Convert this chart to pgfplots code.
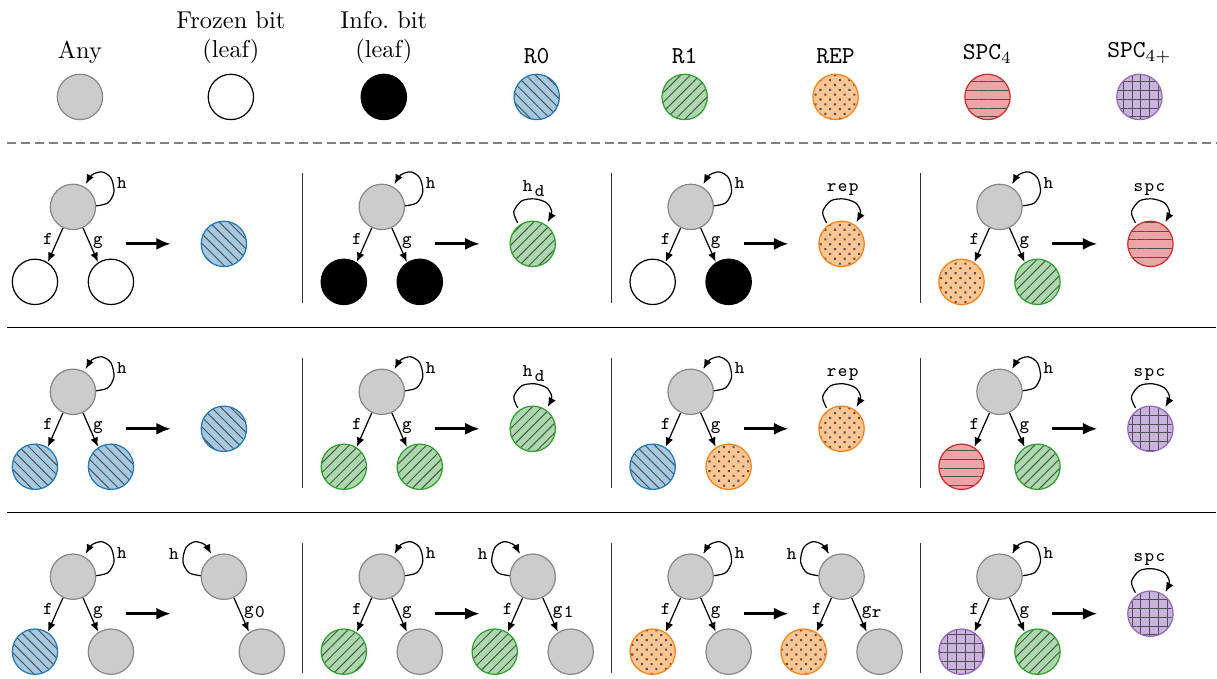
\documentclass[border=0pt]{standalone}
\usepackage{pgfplots}
\pgfplotsset{compat=1.18}
\usepackage{pgfplotstable}
\usetikzlibrary{patterns,patterns.meta,arrows.meta}

\definecolor{anyfill}{HTML}{CCCCCC}
\definecolor{anyline}{HTML}{888888}
\definecolor{tabblue}{HTML}{1F77B4}
\definecolor{tabgreen}{HTML}{2CA02C}
\definecolor{taborange}{HTML}{FF7F0E}
\definecolor{tabred}{HTML}{D62728}
\definecolor{tabpurple}{HTML}{9467BD}
\definecolor{patcol}{HTML}{505050}

\tikzset{
  nd/.style={circle, minimum size=18.6pt, inner sep=0pt, line width=0.5pt},
  anyc/.style={nd, fill=anyfill, draw=anyline},
  frzc/.style={nd, fill=white, draw=black},
  infc/.style={nd, fill=black, draw=black},
  rzc/.style={nd, draw=tabblue, preaction={fill=tabblue!40!white},
    pattern={Lines[angle=-45,distance=2.8pt,line width=0.4pt]}, pattern color=patcol},
  roc/.style={nd, draw=tabgreen, preaction={fill=tabgreen!40!white},
    pattern={Lines[angle=45,distance=2.8pt,line width=0.4pt]}, pattern color=patcol},
  repc/.style={nd, draw=taborange, preaction={fill=taborange!45!white},
    pattern={Dots[angle=45,distance=2.8pt,radius=0.6pt]}, pattern color=patcol},
  spcc/.style={nd, draw=tabred, preaction={fill=tabred!42!white},
    pattern={Lines[angle=0,distance=3.6pt,line width=0.4pt]}, pattern color=patcol},
  spcpc/.style={nd, draw=tabpurple, preaction={fill=tabpurple!50!white},
    pattern={Hatch[angle=0,distance=3.6pt,line width=0.4pt]}, pattern color=patcol},
  edge/.style={black, line width=0.5pt, -{Latex[length=3.8pt,width=3.2pt]}},
  bigarrow/.style={black, line width=1.2pt, -{Latex[length=6pt,width=5pt]}},
}

% node centres, in pixels of the 1217 x 679 picture (y downwards)
\pgfplotstableread{
x y
80 97
73 207
382 207
691 207
1000 207
73 392
382 392
691 392
1000 392
73 577
382 577
691 577
1000 577
224 577
533 577
842 577
111 652
420 652
729 652
262 652
571 652
880 652
}\anytab
\pgfplotstableread{
x y
231 97
35 282
111 282
653 282
}\frztab
\pgfplotstableread{
x y
384 97
344 282
420 282
729 282
}\inftab
\pgfplotstableread{
x y
537 97
224 244
35 467
111 467
224 429
653 467
35 652
}\rztab
\pgfplotstableread{
x y
685 97
533 244
1038 282
344 467
420 467
533 429
1038 467
344 652
495 652
1038 652
}\rotab
\pgfplotstableread{
x y
836 97
842 244
962 282
729 467
842 429
653 652
804 652
}\reptab
\pgfplotstableread{
x y
988 97
1151 244
962 467
}\spctab
\pgfplotstableread{
x y
1140 97
1151 429
962 652
1151 614
}\spcptab

% shapes relative to a node centre
\pgfplotstableread{
x y
23 -1
35 -4
41 -15
38 -29
29 -35
19 -32
13 -23
}\rlooptab
\pgfplotstableread{
x y
-15 -21
-19 -32
-11 -43
2 -45
14 -41
19 -32
15 -22
}\tlooptab
\pgfplotstableread{
x y
10 21
25 55
}\edgetab
\pgfplotstableread{
x y
53 37
98 37
}\arrowtab

% small labels (baseline positions)
\pgfplotstableread{
x y t
122 189 h
431 189 h
740 189 h
1049 189 h
122 374 h
431 374 h
740 374 h
1049 374 h
122 559 h
431 559 h
740 559 h
1049 559 h
174 560 h
483 560 h
792 560 h
48 244.5 f
357 244.5 f
666 244.5 f
975 244.5 f
48 429.5 f
357 429.5 f
666 429.5 f
975 429.5 f
48 614.5 f
357 614.5 f
666 614.5 f
975 614.5 f
508 614.5 f
817 614.5 f
98 244.5 g
407 244.5 g
716 244.5 g
1025 244.5 g
98 429.5 g
407 429.5 g
716 429.5 g
1025 429.5 g
98 614.5 g
407 614.5 g
716 614.5 g
1025 614.5 g
249 614.5 g
558 614.5 g
867 614.5 g
260 618 0
569 618 1
877 618 r
528 192 h
540 197 d
528 377 h
540 382 d
832 192 r
843 192 e
854 192 p
832 377 r
843 377 e
854 377 p
1139 192 s
1150 192 p
1161 192 c
1139 377 s
1150 377 p
1161 377 c
1139 562 s
1150 562 p
1161 562 c
}\lbltab

\newcommand{\circs}[2]{%
  \addplot[draw=none, nodes near coords={}, nodes near coords align={anchor=center},
    every node near coord/.style={#1}] table {#2};}
\newcommand{\tree}[2]{%
  \addplot[edge, smooth] table[x expr=\thisrow{x}+#1, y expr=\thisrow{y}+#2] {\rlooptab};
  \addplot[edge] table[x expr=-\thisrow{x}+#1, y expr=\thisrow{y}+#2] {\edgetab};
  \addplot[edge] table[x expr=\thisrow{x}+#1, y expr=\thisrow{y}+#2] {\edgetab};
  \addplot[bigarrow] table[x expr=\thisrow{x}+#1, y expr=\thisrow{y}+#2] {\arrowtab};}
\newcommand{\tloop}[2]{%
  \addplot[edge, smooth] table[x expr=\thisrow{x}+#1, y expr=\thisrow{y}+#2] {\tlooptab};}
\newcommand{\lloop}[2]{%
  \addplot[edge, smooth] table[x expr=-\thisrow{x}+#1, y expr=\thisrow{y}+#2] {\rlooptab};}

\begin{document}
\begin{tikzpicture}
\begin{axis}[
  x=0.41pt, y=0.41pt, y dir=reverse,
  xmin=0, xmax=1217, ymin=0, ymax=679,
  hide axis, clip=false,
]
\addplot[draw=none] coordinates {(0,0) (1217,679)};

% separators
\addplot[gray, line width=0.5pt, dash pattern=on 3.7pt off 2pt] coordinates {(7,143) (1217,143)};
\addplot[black, line width=0.5pt] coordinates {(7,328) (1217,328)};
\addplot[black, line width=0.5pt] coordinates {(7,513) (1217,513)};
\addplot[black!80, line width=0.5pt] coordinates {(303,173) (303,303)};
\addplot[black!80, line width=0.5pt] coordinates {(612,173) (612,303)};
\addplot[black!80, line width=0.5pt] coordinates {(921,173) (921,303)};
\addplot[black!80, line width=0.5pt] coordinates {(303,358) (303,488)};
\addplot[black!80, line width=0.5pt] coordinates {(612,358) (612,488)};
\addplot[black!80, line width=0.5pt] coordinates {(921,358) (921,488)};
\addplot[black!80, line width=0.5pt] coordinates {(303,543) (303,673)};
\addplot[black!80, line width=0.5pt] coordinates {(612,543) (612,673)};
\addplot[black!80, line width=0.5pt] coordinates {(921,543) (921,673)};

% trees on the left of each rule
\tree{73}{207}\tree{382}{207}\tree{691}{207}\tree{1000}{207}
\tree{73}{392}\tree{382}{392}\tree{691}{392}\tree{1000}{392}
\tree{73}{577}\tree{382}{577}\tree{691}{577}\tree{1000}{577}

% results
\tloop{533}{244}\tloop{842}{244}\tloop{1151}{244}
\tloop{533}{429}\tloop{842}{429}\tloop{1151}{429}
\tloop{1151}{614}
\lloop{224}{577}\lloop{533}{577}\lloop{842}{577}
\addplot[edge] table[x expr=\thisrow{x}+224, y expr=\thisrow{y}+577] {\edgetab};
\addplot[edge] table[x expr=\thisrow{x}+533, y expr=\thisrow{y}+577] {\edgetab};
\addplot[edge] table[x expr=-\thisrow{x}+533, y expr=\thisrow{y}+577] {\edgetab};
\addplot[edge] table[x expr=\thisrow{x}+842, y expr=\thisrow{y}+577] {\edgetab};
\addplot[edge] table[x expr=-\thisrow{x}+842, y expr=\thisrow{y}+577] {\edgetab};

% circles
\circs{anyc}{\anytab}
\circs{frzc}{\frztab}
\circs{infc}{\inftab}
\circs{rzc}{\rztab}
\circs{roc}{\rotab}
\circs{repc}{\reptab}
\circs{spcc}{\spctab}
\circs{spcpc}{\spcptab}

% small labels
\addplot[draw=none, point meta=explicit symbolic, nodes near coords,
  nodes near coords align={anchor=base},
  every node near coord/.style={font=\ttfamily\fontsize{7.4}{8}\selectfont, inner sep=0pt, black}]
  table[meta=t] {\lbltab};

% legend row
\node[anchor=south, inner sep=0pt] at (axis cs:80,64) {Any};
\node[anchor=south, inner sep=0pt, align=center] at (axis cs:231,64) {Frozen bit\\(leaf)};
\node[anchor=south, inner sep=0pt, align=center] at (axis cs:384,64) {Info.\ bit\\(leaf)};
\node[anchor=south, inner sep=0pt] at (axis cs:537,64) {\texttt{R0}};
\node[anchor=south, inner sep=0pt] at (axis cs:685,64) {\texttt{R1}};
\node[anchor=south, inner sep=0pt] at (axis cs:836,64) {\texttt{REP}};
\node[anchor=south, inner sep=0pt] at (axis cs:988,64) {\texttt{SPC}$_4$};
\node[anchor=south, inner sep=0pt] at (axis cs:1140,64) {\texttt{SPC}$_{4+}$};
\end{axis}
\end{tikzpicture}
\end{document}
